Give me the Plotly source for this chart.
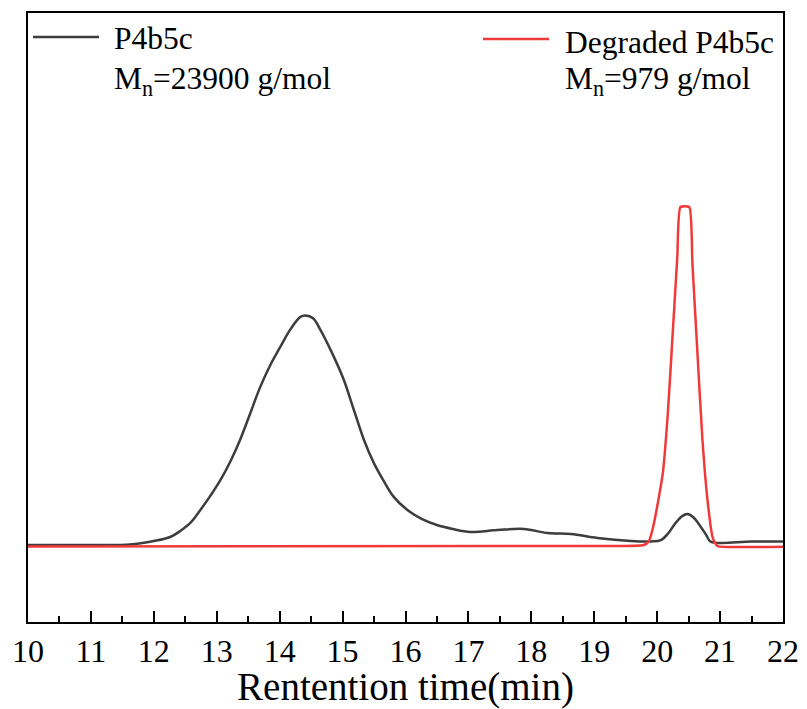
import plotly.graph_objects as go

# Retention time (min) and detector response (arbitrary units)
t_p4b5c = [10.0, 11.0, 11.62, 12.0, 12.26, 12.42, 12.58, 12.74, 12.9, 13.06, 13.22, 13.37, 13.53,
           13.69, 13.85, 14.01, 14.17, 14.33, 14.41, 14.53, 14.65, 14.86, 15.02, 15.18, 15.34,
           15.50, 15.66, 15.81, 16.03, 16.24, 16.50, 16.75, 17.03, 17.46, 17.88, 18.26, 18.63,
           19.05, 19.58, 19.9, 20.06, 20.17, 20.27, 20.38, 20.48, 20.57, 20.65, 20.78, 20.85,
           21.5, 22.0]
y_p4b5c = [0.65, 0.65, 0.87, 2.38, 4.11, 6.7, 10.17, 15.8, 22.0, 28.8, 37.0, 46.1, 57.5,
           69.0, 78.5, 86.4, 94.0, 99.4, 100.0, 98.8, 93.7, 82.2, 72.1, 59.1, 46.1,
           36.0, 28.1, 21.6, 15.8, 12.2, 9.3, 7.6, 6.3, 7.1, 7.6, 5.8, 5.4,
           3.7, 2.4, 2.2, 2.8, 5.5, 9.3, 12.8, 14.1, 12.8, 10.2, 5.0, 2.1,
           2.2, 2.2]

t_degraded = [10.0, 19.0, 19.79, 19.87, 19.95, 20.09, 20.17, 20.25, 20.32, 20.37, 20.51,
              20.56, 20.64, 20.72, 20.80, 20.88, 20.92, 20.96, 22.0]
y_degraded = [0.0, 0.2, 0.65, 2.4, 10.2, 31.8, 57.8, 93.7, 125.3, 147.0, 147.0,
              122.7, 83.8, 46.1, 20.1, 4.1, 1.5, 0.2, -0.1]

x_ticks = list(range(10, 23))
names = ["P4b5c", "Degraded P4b5c"]
mn_labels = ["M<sub>n</sub>=23900 g/mol", "M<sub>n</sub>=979 g/mol"]
colors = ["#3d3d3d", "#f03a3a"]

FONT = "Liberation Serif, Times New Roman, serif"

fig = go.Figure()
fig.add_trace(go.Scatter(x=t_p4b5c, y=y_p4b5c, mode="lines", name=names[0],
                         line=dict(color=colors[0], width=2.5, shape="spline", smoothing=1.0),
                         showlegend=False))
fig.add_trace(go.Scatter(x=t_degraded, y=y_degraded, mode="lines", name=names[1],
                         line=dict(color=colors[1], width=2.5, shape="spline", smoothing=0.5),
                         showlegend=False))

W, H = 807, 709
L, R, T, B = 28, 24, 13, 87
pw, ph = W - L - R, H - T - B


def px(x):
    return (x - L) / pw


def py(y):
    return (H - B - y) / ph


# legend-like key (lines + text)
legend_items = [
    dict(x0=33, x1=99, y=37, tx=112, ty1=39, ty2=81),
    dict(x0=483, x1=549, y=39, tx=563, ty1=42, ty2=81),
]
for i, it in enumerate(legend_items):
    fig.add_shape(type="line", xref="paper", yref="paper",
                  x0=px(it["x0"]), x1=px(it["x1"]), y0=py(it["y"]), y1=py(it["y"]),
                  line=dict(color=colors[i], width=2.5))
    fig.add_annotation(xref="paper", yref="paper", x=px(it["tx"]), y=py(it["ty1"]),
                       text=names[i], showarrow=False, xanchor="left", yanchor="middle",
                       font=dict(family=FONT, size=31.5, color="black"))
    fig.add_annotation(xref="paper", yref="paper", x=px(it["tx"]), y=py(it["ty2"]),
                       text=mn_labels[i], showarrow=False, xanchor="left", yanchor="middle",
                       font=dict(family=FONT, size=31.5, color="black"))

fig.update_layout(
    width=W, height=H,
    margin=dict(l=L, r=R, t=T, b=B, autoexpand=False),
    paper_bgcolor="white", plot_bgcolor="white",
    font=dict(family=FONT, color="black"),
    xaxis=dict(range=[10, 22], tickmode="array", tickvals=x_ticks,
               ticktext=[str(v) for v in x_ticks],
               ticks="inside", ticklen=11, tickwidth=2, tickcolor="black",
               minor=dict(ticks="inside", ticklen=6, tickwidth=2, tickcolor="black", dtick=0.5),
               showline=True, linecolor="black", linewidth=2, mirror=True,
               showgrid=False, zeroline=False, automargin=False,
               tickfont=dict(family=FONT, size=32),
               title=dict(text="Rentention time(min)", font=dict(family=FONT, size=39), standoff=3)),
    yaxis=dict(range=[-32.7, 231.0], showticklabels=False, ticks="",
               showline=True, linecolor="black", linewidth=2, mirror=True,
               showgrid=False, zeroline=False, automargin=False),
)

fig.write_html("out.html", config={"displayModeBar": False},
               post_script="document.body.style.margin='0';")
